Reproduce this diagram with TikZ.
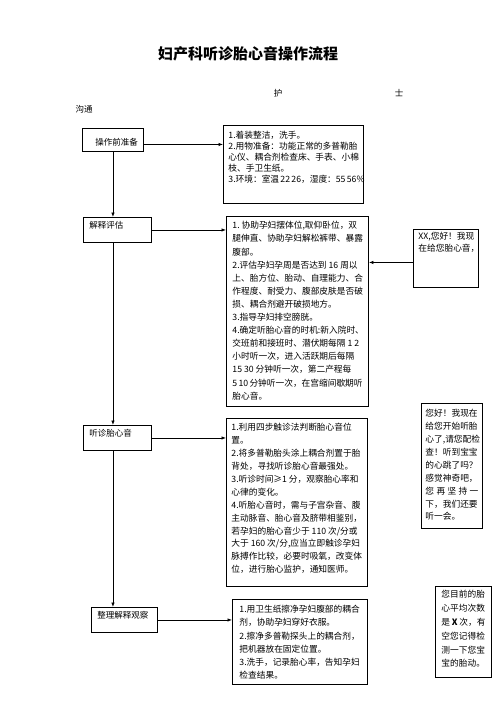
\documentclass[tikz,border=0pt]{standalone}
\usepackage{fontspec}
\setmainfont{Noto Sans CJK SC}
\usetikzlibrary{arrows.meta}

\newcommand{\boxtext}[4]{\parbox[t][#1][t]{#2}{\vspace*{#3}#4}}

\tikzset{
  stage/.style={draw, line width=0.9pt, anchor=north west, inner xsep=6pt,
    inner ysep=0pt, font=\fontsize{8.5pt}{12pt}\selectfont},
  note/.style={draw, line width=0.9pt, anchor=north west, inner xsep=5pt,
    inner ysep=0pt, font=\fontsize{8.7pt}{13.1pt}\selectfont},
  flow/.style={line width=0.8pt, -{Latex[length=4.5pt,width=3.5pt]}},
}

\begin{document}
\begin{tikzpicture}  % ------ 听诊胎心音流程 --------------
      [x=1pt,y=-1pt]
    \useasboundingbox (0,0) rectangle (496,702);

    \node (title) at (248,54) {\fontsize{15pt}{18pt}\bfseries\selectfont 妇产科听诊胎心音操作流程};
    \node[font=\fontsize{8.5pt}{10pt}\selectfont] (hu) at (278,93) {护};
    \node[font=\fontsize{8.5pt}{10pt}\selectfont] (shi) at (399,93) {士};
    \node[font=\fontsize{8.5pt}{10pt}\selectfont] (goutong) at (84,109) {沟通};

    % left column
    \node[stage] (prep) at (82,128) {\boxtext{23pt}{49pt}{10pt}{\hspace*{7pt}操作前准备}};
    \node[stage] (explain) at (83,217) {\boxtext{25pt}{56pt}{4pt}{解释评估}};
    \node[stage] (listen) at (83,425) {\boxtext{25pt}{56pt}{4pt}{听诊胎心音}};
    \node[stage] (tidy) at (91,607) {\boxtext{25pt}{54pt}{4pt}{整理解释观察}};

    % middle column
    \node[note, font=\fontsize{8.7pt}{10.8pt}\selectfont] (note1) at (223,125) {\boxtext{78pt}{130pt}{6pt}{%
      1.着装整洁，洗手。\\
      2.用物准备：功能正常的多普勒胎\\
      心仪、耦合剂检查床、手表、小棉\\
      枝、手卫生纸。\\
      3.环境：室温~22~26，湿度：55~56\%}};
    \node[note, inner xsep=6pt] (note2) at (226,216) {\boxtext{190pt}{130pt}{5pt}{%
      1.~协助孕妇摆体位,取仰卧位，双\\
      腿伸直、协助孕妇解松裤带、暴露\\
      腹部。\\
      2.评估孕妇孕周是否达到~16~周以\\
      上、胎方位、胎动、自理能力、合\\
      作程度、耐受力、腹部皮肤是否破\\
      损、耦合剂避开破损地方。\\
      3.指导孕妇排空膀胱。\\
      4.确定听胎心音的时机:新入院时、\\
      交班前和接班时、潜伏期每隔~1~2\\
      小时听一次，进入活跃期后每隔\\
      15~30~分钟听一次，第二产程每\\
      5~10~分钟听一次，在宫缩间歇期听\\
      胎心音。}};
    \node[note, font=\fontsize{8.7pt}{12.9pt}\selectfont] (note3) at (226,418) {\boxtext{168pt}{131pt}{5pt}{%
      1.利用四步触诊法判断胎心音位\\
      置。\\
      2.将多普勒胎头涂上耦合剂置于胎\\
      背处，寻找听诊胎心音最强处。\\
      3.听诊时间≥1~分，观察胎心率和\\
      心律的变化。\\
      4.听胎心音时，需与子宫杂音、腹\\
      主动脉音、胎心音及脐带相鉴别，\\
      若孕妇的胎心音少于~110~次/分或\\
      大于~160~次/分,应当立即触诊孕妇\\
      脉搏作比较，必要时吸氧，改变体\\
      位，进行胎心监护，通知医师。}};
    \node[note, inner xsep=7pt] (note4) at (232,599) {\boxtext{85pt}{121pt}{6pt}{%
      1.用卫生纸擦净孕妇腹部的耦合\\
      剂，协助孕妇穿好衣服。\\
      2.擦净多普勒探头上的耦合剂，\\
      把机器放在固定位置。\\
      3.洗手，记录胎心率，告知孕妇\\
      检查结果。}};

    % right column
    \node[note, font=\fontsize{8.7pt}{12pt}\selectfont] (talk1) at (413,229) {\boxtext{58pt}{55pt}{3pt}{%
      XX,您好！我现\\
      在给您胎心音，}};
    \node[note, inner xsep=4pt, font=\fontsize{8.7pt}{12.9pt}\selectfont] (talk2) at (421,403) {\boxtext{125pt}{53pt}{6pt}{%
      您好！我现在\\
      给您开始听胎\\
      心了,请您配检\\
      查！听到宝宝\\
      的心跳了吗？\\
      感觉神奇吧，\\
      您\hfill 再\hfill 坚\hfill 持\hfill 一\\
      下，我们还要\\
      听一会。}};
    \node[note, inner xsep=6pt, font=\fontsize{8.7pt}{13.8pt}\selectfont] (talk3) at (435,586) {\boxtext{91pt}{44pt}{4pt}{%
      您目前的胎\\
      心平均次数\\
      是~\textbf{X}~次，有\\
      空您记得检\\
      测一下您宝\\
      宝的胎动。}};

    \draw[flow] (prep.south) -- (prep.south |- explain.north);
    \draw[flow] (prep.south |- explain.south) -- (prep.south |- listen.north);
    \draw[flow] (prep.south |- listen.south) -- (prep.south |- tidy.north);

    \draw[flow] ([yshift=-4.5pt]prep.east) -- ([yshift=-4.5pt]prep.east -| note1.west);
    \draw[flow] (explain.east) -- (explain.east -| note2.west);
    \draw[flow] (listen.east) -- (listen.east -| note3.west);
    \draw[flow] (tidy.east) -- (tidy.east -| note4.west);
    \draw[flow] ([yshift=-4pt]talk1.west) -- ([yshift=-4pt]talk1.west -| note2.east);
\end{tikzpicture}
\end{document}
